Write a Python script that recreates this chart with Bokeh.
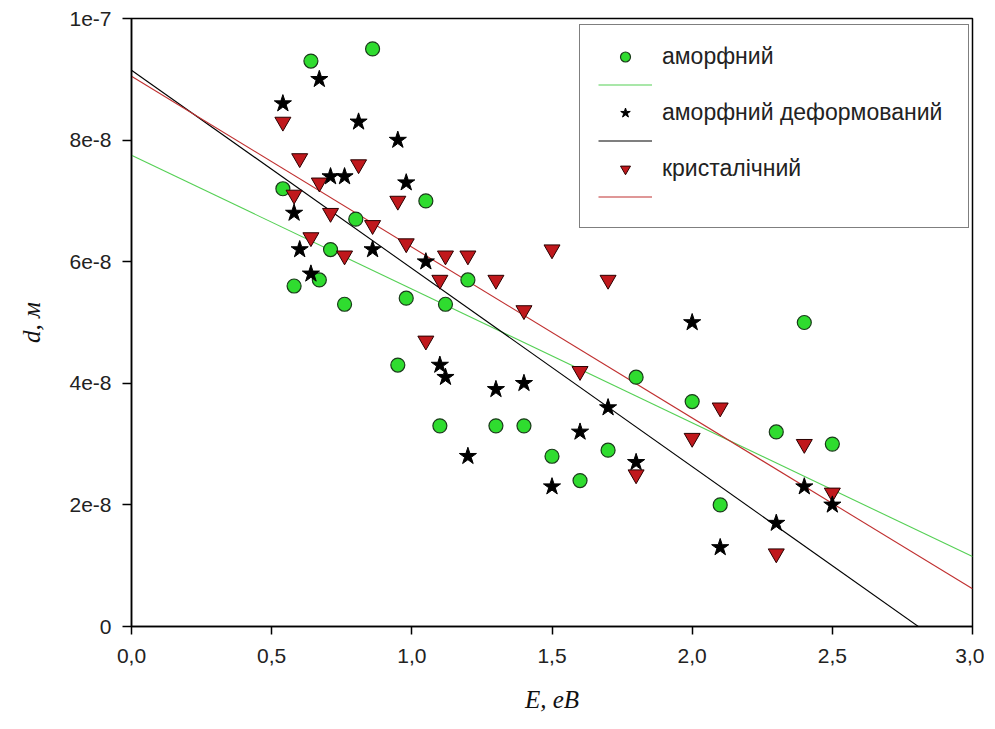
import numpy as np
from bokeh.plotting import figure
from bokeh.models import Range1d, FixedTicker, CustomJSTickFormatter, Legend, LegendItem
from bokeh.embed import file_html
from bokeh.resources import INLINE

# ---- data ----
amorph_E = [0.54, 0.58, 0.64, 0.67, 0.71, 0.76, 0.80, 0.86, 0.95, 0.98, 1.05, 1.10, 1.12,
            1.20, 1.30, 1.40, 1.50, 1.60, 1.70, 1.80, 2.00, 2.10, 2.30, 2.40, 2.50]
amorph_d = [7.2e-8, 5.6e-8, 9.3e-8, 5.7e-8, 6.2e-8, 5.3e-8, 6.7e-8, 9.5e-8, 4.3e-8, 5.4e-8,
            7.0e-8, 3.3e-8, 5.3e-8, 5.7e-8, 3.3e-8, 3.3e-8, 2.8e-8, 2.4e-8, 2.9e-8, 4.1e-8,
            3.7e-8, 2.0e-8, 3.2e-8, 5.0e-8, 3.0e-8]

deform_E = [0.54, 0.58, 0.60, 0.64, 0.67, 0.71, 0.76, 0.81, 0.86, 0.95, 0.98, 1.05, 1.10,
            1.12, 1.20, 1.30, 1.40, 1.50, 1.60, 1.70, 1.80, 2.00, 2.10, 2.30, 2.40, 2.50]
deform_d = [8.6e-8, 6.8e-8, 6.2e-8, 5.8e-8, 9.0e-8, 7.4e-8, 7.4e-8, 8.3e-8, 6.2e-8, 8.0e-8,
            7.3e-8, 6.0e-8, 4.3e-8, 4.1e-8, 2.8e-8, 3.9e-8, 4.0e-8, 2.3e-8, 3.2e-8, 3.6e-8,
            2.7e-8, 5.0e-8, 1.3e-8, 1.7e-8, 2.3e-8, 2.0e-8]

cryst_E = [0.54, 0.58, 0.60, 0.64, 0.67, 0.71, 0.76, 0.81, 0.86, 0.95, 0.98, 1.05, 1.10,
           1.12, 1.20, 1.30, 1.40, 1.50, 1.60, 1.70, 1.80, 2.00, 2.10, 2.30, 2.40, 2.50]
cryst_d = [8.3e-8, 7.1e-8, 7.7e-8, 6.4e-8, 7.3e-8, 6.8e-8, 6.1e-8, 7.6e-8, 6.6e-8, 7.0e-8,
           6.3e-8, 4.7e-8, 5.7e-8, 6.1e-8, 6.1e-8, 5.7e-8, 5.2e-8, 6.2e-8, 4.2e-8, 5.7e-8,
           2.5e-8, 3.1e-8, 3.6e-8, 1.2e-8, 3.0e-8, 2.2e-8]

# linear fits (intercept, slope)
fit_names = ["аморфний", "аморфний деформований", "кристалічний"]
fit_intercept = [7.75e-8, 9.15e-8, 9.05e-8]
fit_slope = [-2.20e-8, -3.26e-8, -2.81e-8]
fit_E = [0.0, 3.0]

x_ticks = [0.0, 0.5, 1.0, 1.5, 2.0, 2.5, 3.0]
x_tick_labels = ["0,0", "0,5", "1,0", "1,5", "2,0", "2,5", "3,0"]
y_ticks = [0.0, 2e-8, 4e-8, 6e-8, 8e-8, 1e-7]
y_tick_labels = ["0", "2e-8", "4e-8", "6e-8", "8e-8", "1e-7"]

# ---- figure ----
p = figure(frame_width=841, frame_height=608, output_backend="svg", toolbar_location=None,
           x_range=Range1d(0, 3.0), y_range=Range1d(0, 1e-7))
p.min_border_left = 131
p.min_border_top = 18
p.min_border_right = 12
p.min_border_bottom = 95
p.background_fill_color = "white"
p.border_fill_color = "white"
p.outline_line_color = "black"
p.outline_line_width = 1.5
p.xgrid.visible = False
p.ygrid.visible = False

for ax in (p.xaxis, p.yaxis):
    ax.axis_line_width = 1.5
    ax.axis_line_color = "black"
    ax.major_tick_line_color = "black"
    ax.major_tick_line_width = 1.5
    ax.major_tick_in = 0
    ax.minor_tick_line_color = None
    ax.major_label_text_font = "Liberation Sans"
    ax.major_label_text_font_size = "21px"
    ax.major_label_text_color = "#222222"
    ax.axis_label_text_font = "Liberation Serif"
    ax.axis_label_text_font_style = "italic"
    ax.axis_label_text_font_size = "25px"
    ax.axis_label_text_color = "#111111"

p.xaxis.major_tick_out = 8
p.yaxis.major_tick_out = 9
p.xaxis.major_label_standoff = 14
p.yaxis.major_label_standoff = 11
p.xaxis.axis_label = "E, eB"
p.yaxis.axis_label = "d, м"
p.xaxis.axis_label_standoff = 20
p.yaxis.axis_label_standoff = 21

p.xaxis.ticker = FixedTicker(ticks=x_ticks)
p.yaxis.ticker = FixedTicker(ticks=y_ticks)
fmt_code = """
let b = 0;
for (let i = 0; i < tvals.length; i++) {
  if (Math.abs(tvals[i] - tick) < Math.abs(tvals[b] - tick)) b = i;
}
return tlabels[b];
"""
p.xaxis.formatter = CustomJSTickFormatter(args=dict(tvals=x_ticks, tlabels=x_tick_labels), code=fmt_code)
p.yaxis.formatter = CustomJSTickFormatter(args=dict(tvals=y_ticks, tlabels=y_tick_labels), code=fmt_code)

# ---- fit lines ----
line_colors = ["#55d055", "#000000", "#c03030"]
fit_renderers = []
xe = np.array(fit_E)
for a, b, c in zip(fit_intercept, fit_slope, line_colors):
    r = p.line(xe, a + b * xe, line_color=c, line_width=1.1)
    fit_renderers.append(r)

# ---- markers ----
r_am = p.scatter(amorph_E, amorph_d, marker="circle", size=14, fill_color="#2fdc2f",
                 line_color="#1a3a1a", line_width=1.2)
r_cr = p.scatter(cryst_E, cryst_d, marker="inverted_triangle", size=16, fill_color="#c0181c",
                 line_color="#2a0000", line_width=1.0)
r_de = p.scatter(deform_E, deform_d, marker="star", size=18, fill_color="black",
                 line_color="black", line_width=1.0)

legend = Legend(items=[
    LegendItem(label=fit_names[0], renderers=[r_am]),
    LegendItem(label=" ", renderers=[fit_renderers[0]]),
    LegendItem(label=fit_names[1], renderers=[r_de]),
    LegendItem(label=" ", renderers=[fit_renderers[1]]),
    LegendItem(label=fit_names[2], renderers=[r_cr]),
    LegendItem(label=" ", renderers=[fit_renderers[2]]),
], location=(448, 398))
legend.margin = 0
legend.padding = 18
legend.spacing = 2
legend.glyph_width = 54
legend.glyph_height = 25
legend.label_height = 25
legend.label_width = 288
legend.label_standoff = 10
legend.label_text_font = "Liberation Sans"
legend.label_text_font_size = "23px"
legend.label_text_color = "#222222"
legend.border_line_color = "black"
legend.border_line_width = 1.5
legend.background_fill_color = "white"
legend.background_fill_alpha = 1.0
p.add_layout(legend, "center")

open("out.html", "w").write(file_html(p, INLINE))
